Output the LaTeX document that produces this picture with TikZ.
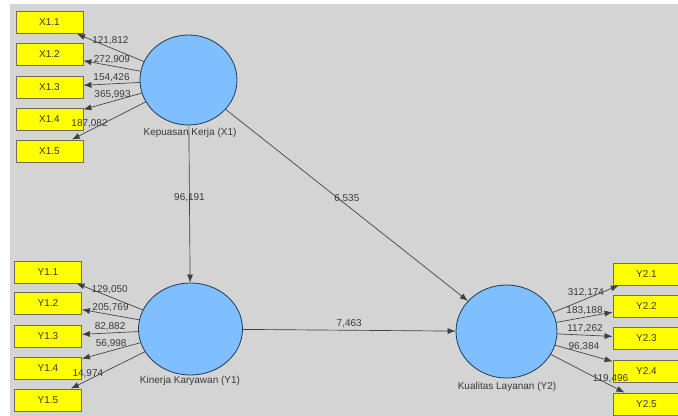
\documentclass[tikz,border=0pt]{standalone}
\usepackage{fontspec}
\setmainfont{Liberation Sans}
\usetikzlibrary{shapes.geometric,arrows.meta}
\definecolor{plsgray}{HTML}{D4D4D4}
\definecolor{plsblue}{HTML}{80BFFF}
\definecolor{plsyellow}{HTML}{FFFF00}
\definecolor{plsedge}{HTML}{1E3A55}
\definecolor{plsbox}{HTML}{6E6E5A}
\definecolor{plstext}{HTML}{3A3A3A}
\begin{document}
\begin{tikzpicture}[x={(0.75pt,0)},y={(0,-0.75pt)},
 font=\fontsize{7.5}{9}\selectfont,
 ind/.style={draw=plsbox,fill=plsyellow,line width=0.6pt,minimum width=50.25pt,minimum height=16.5pt,inner sep=0pt,text=plstext},
 lv/.style={ellipse,draw=plsedge,fill=plsblue,line width=0.6pt,inner sep=0pt},
 lvname/.style={text=plstext,inner sep=0pt},
 arrow/.style={-{Latex[length=6pt,width=4.5pt]},line width=0.5pt,draw=black!75},
 wt/.style={text=plstext,inner sep=0pt,yshift=5pt}]
\useasboundingbox (0,0) rectangle (678,416);
\clip (0,0) rectangle (678,416);
\fill[plsgray] (10,4) rectangle (678,416);
% latent variables
\node[lv,minimum width=72.75pt,minimum height=67.5pt] (kk) at (188.5,80) {};
\node[lv,minimum width=78pt,minimum height=69pt] (kin) at (190.5,329) {};
\node[lv,minimum width=75.75pt,minimum height=69.75pt] (kl) at (506.5,331.5) {};
\node[lvname] (kkname) at (190,133) {Kepuasan Kerja (X1)};
\node[lvname] (kinname) at (190,381) {Kinerja Karyawan (Y1)};
\node[lvname] (klname) at (507,387) {Kualitas Layanan (Y2)};
% indicators X1
\node[ind] (x11) at (49.5,22.5) {X1.1};
\node[ind] (x12) at (49.5,54.5) {X1.2};
\node[ind] (x13) at (49.5,87) {X1.3};
\node[ind] (x14) at (49.5,119) {X1.4};
\node[ind] (x15) at (49.5,151) {X1.5};
% indicators Y1
\node[ind] (y11) at (48,272) {Y1.1};
\node[ind] (y12) at (48,303.5) {Y1.2};
\node[ind] (y13) at (48,336) {Y1.3};
\node[ind] (y14) at (48,368) {Y1.4};
\node[ind] (y15) at (48,400) {Y1.5};
% indicators Y2
\node[ind] (y21) at (646.5,274) {Y2.1};
\node[ind] (y22) at (646.5,306) {Y2.2};
\node[ind] (y23) at (646.5,338) {Y2.3};
\node[ind] (y24) at (646.5,371) {Y2.4};
\node[ind] (y25) at (646.5,404) {Y2.5};
% outer weights
\draw[arrow] (kk)--node[wt]{121,812}(x11);
\draw[arrow] (kk)--node[wt]{272,909}(x12);
\draw[arrow] (kk)--node[wt]{154,426}(x13);
\draw[arrow] (kk)--node[wt]{365,993}(x14);
\draw[arrow] (kk)--node[wt,pos=0.76]{187,082}(x15);
\draw[arrow] (kin)--node[wt]{129,050}(y11);
\draw[arrow] (kin)--node[wt]{205,769}(y12);
\draw[arrow] (kin)--node[wt]{82,882}(y13);
\draw[arrow] (kin)--node[wt]{56,998}(y14);
\draw[arrow] (kin)--node[wt,pos=0.77]{14,974}(y15);
\draw[arrow] (kl)--node[wt]{312,174}(y21);
\draw[arrow] (kl)--node[wt]{183,188}(y22);
\draw[arrow] (kl)--node[wt]{117,262}(y23);
\draw[arrow] (kl)--node[wt]{96,384}(y24);
\draw[arrow] (kl)--node[wt,pos=0.81]{119,496}(y25);
% inner model
\draw[arrow] (kk)--node[wt]{96,191}(kin);
\draw[arrow] (kk)--node[wt]{6,535}(kl);
\draw[arrow] (kin)--node[wt]{7,463}(kl);
\end{tikzpicture}
\end{document}
